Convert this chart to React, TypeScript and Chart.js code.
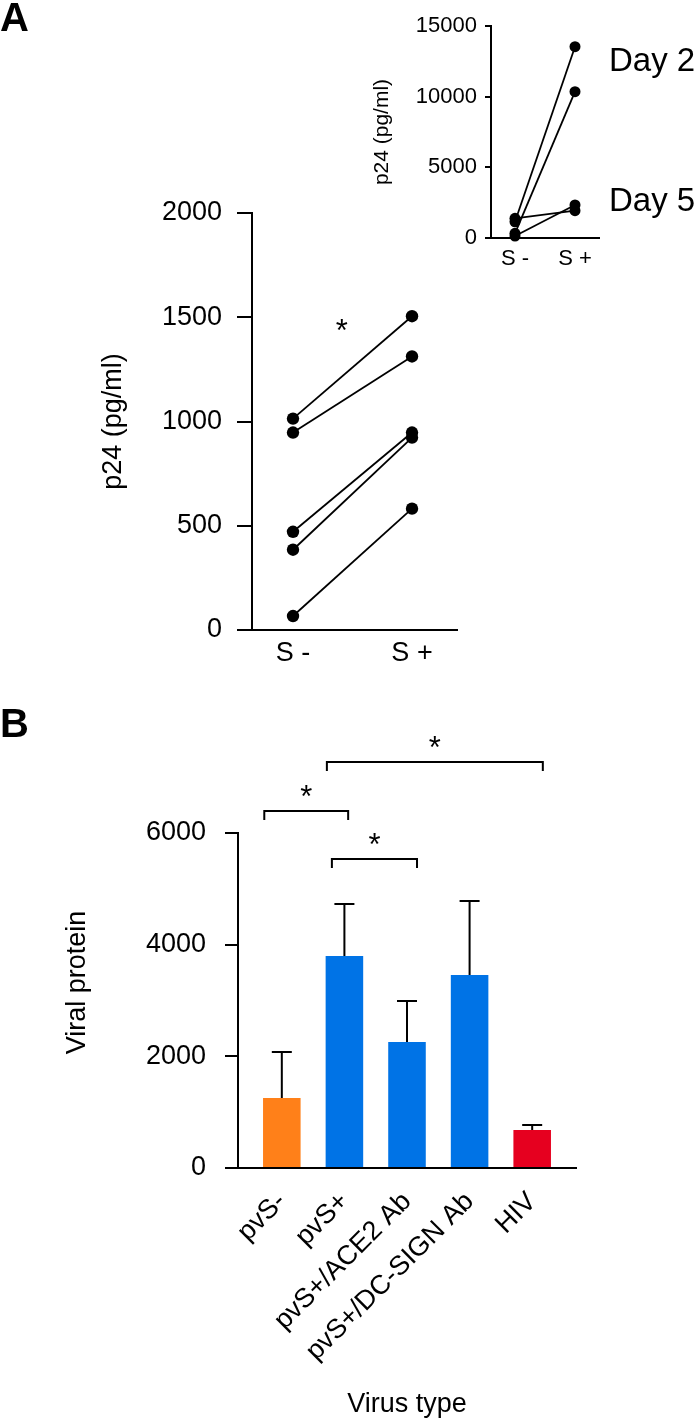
import React, { useEffect, useRef } from "react";
import { Chart, registerables } from "chart.js";

Chart.register(...registerables);
Chart.defaults.color = "#000";

const FONT = '"Liberation Sans", Arial, Helvetica, sans-serif';

// ---------- Panel A, main plot ----------
const pairCategories = ["S -", "S +"];
const mainSMinus = [1014, 947, 471, 385, 67];
const mainSPlus = [1505, 1312, 947, 923, 582];
const mainYTicks = [0, 500, 1000, 1500, 2000];
const mainStarPos = [0.41, 1463];
const mainXRange = [-0.3445, 1.378];

// ---------- Panel A, inset ----------
const insetSMinus = [1150, 330, 1390, 140];
const insetSPlus = [13535, 10350, 1930, 2335];
const insetYTicks = [0, 5000, 10000, 15000];
const dayLabels = ["Day 2", "Day 5"];
const dayLabelValues = [12380, 2480];
const insetXRange = [-0.4, 1.4];

// ---------- Panel B ----------
const virusTypes = ["pvS-", "pvS+", "pvS+/ACE2 Ab", "pvS+/DC-SIGN Ab", "HIV"];
const viralMeans = [1254, 3797, 2257, 3457, 681];
const viralErrors = [824, 932, 734, 1325, 89];
const virusColors = ["#FF8019", "#0073E6", "#0073E6", "#0073E6", "#E6001F"];
const viralYTicks = [0, 2000, 4000, 6000];
const barXRange = [-0.7, 4.7];
const bracketStarts = [-0.28, 0.8, 0.72];
const bracketEnds = [1.06, 2.16, 4.17];
const bracketLevels = [6394, 5535, 7272];
const bracketLabels = ["*", "*", "*"];
const barYTitle = "Viral protein";

function drawText(
  ctx: CanvasRenderingContext2D,
  text: string,
  x: number,
  y: number,
  font: string,
  align: CanvasTextAlign
) {
  ctx.save();
  ctx.font = font;
  ctx.fillStyle = "#000";
  ctx.textAlign = align;
  ctx.textBaseline = "alphabetic";
  const m = ctx.measureText(text);
  const asc = m.actualBoundingBoxAscent;
  const desc = m.actualBoundingBoxDescent;
  ctx.fillText(text, x, y + (asc - desc) / 2);
  ctx.restore();
}

const tickFont = (size: number) => ({ family: FONT, size });

function makeMain(): any {
  return {
    type: "line",
    data: {
      datasets: mainSMinus.map((v, i) => ({
        data: [
          { x: 0, y: v },
          { x: 1, y: mainSPlus[i] },
        ],
        borderColor: "#000",
        borderWidth: 1.8,
        pointRadius: 6.2,
        pointBackgroundColor: "#000",
        pointBorderColor: "#000",
        pointBorderWidth: 0,
        clip: false,
      })),
    },
    options: {
      responsive: false,
      animation: false,
      layout: { padding: { top: 213, right: 243, bottom: 0, left: 90 } },
      plugins: { legend: { display: false }, tooltip: { enabled: false } },
      scales: {
        x: {
          type: "linear",
          min: mainXRange[0],
          max: mainXRange[1],
          afterBuildTicks: (s: any) => {
            s.ticks = pairCategories.map((_, i) => ({ value: i }));
          },
          afterFit: (s: any) => {
            s.height = 70;
          },
          grid: { display: false, drawTicks: false },
          border: { display: true, color: "#000", width: 2 },
          ticks: {
            callback: (v: any) => pairCategories[v] ?? "",
            font: tickFont(27),
            color: "#000",
            padding: 7,
            maxRotation: 0,
            autoSkip: false,
          },
        },
        y: {
          type: "linear",
          min: 0,
          max: 2000,
          afterBuildTicks: (s: any) => {
            s.ticks = mainYTicks.map((v) => ({ value: v }));
          },
          afterFit: (s: any) => {
            s.width = 162;
          },
          grid: {
            drawOnChartArea: false,
            drawTicks: true,
            tickLength: 15,
            color: "#000",
            lineWidth: 2,
          },
          border: { display: true, color: "#000", width: 2 },
          ticks: {
            callback: (v: any) => String(v),
            font: tickFont(27),
            color: "#000",
            padding: 15,
          },
          title: {
            display: true,
            text: "p24 (pg/ml)",
            font: tickFont(27),
            color: "#000",
            padding: { top: 7, bottom: 0 },
          },
        },
      },
    },
    plugins: [
      {
        id: "mainStar",
        afterDraw(chart: any) {
          const { ctx, scales } = chart;
          drawText(
            ctx,
            "*",
            scales.x.getPixelForValue(mainStarPos[0]),
            scales.y.getPixelForValue(mainStarPos[1]),
            `31px ${FONT}`,
            "center"
          );
        },
      },
    ],
  };
}

function makeInset(): any {
  return {
    type: "line",
    data: {
      datasets: insetSMinus.map((v, i) => ({
        data: [
          { x: 0, y: v },
          { x: 1, y: insetSPlus[i] },
        ],
        borderColor: "#000",
        borderWidth: 1.8,
        pointRadius: 5.5,
        pointBackgroundColor: "#000",
        pointBorderColor: "#000",
        pointBorderWidth: 0,
        clip: false,
      })),
    },
    options: {
      responsive: false,
      animation: false,
      layout: { padding: { top: 26, right: 101, bottom: 0, left: 360 } },
      plugins: { legend: { display: false }, tooltip: { enabled: false } },
      scales: {
        x: {
          type: "linear",
          min: insetXRange[0],
          max: insetXRange[1],
          afterBuildTicks: (s: any) => {
            s.ticks = pairCategories.map((_, i) => ({ value: i }));
          },
          afterFit: (s: any) => {
            s.height = 62;
          },
          grid: { display: false, drawTicks: false },
          border: { display: true, color: "#000", width: 2 },
          ticks: {
            callback: (v: any) => pairCategories[v] ?? "",
            font: tickFont(22),
            color: "#000",
            padding: 8,
            maxRotation: 0,
            autoSkip: false,
          },
        },
        y: {
          type: "linear",
          min: 0,
          max: 15000,
          afterBuildTicks: (s: any) => {
            s.ticks = insetYTicks.map((v) => ({ value: v }));
          },
          afterFit: (s: any) => {
            s.width = 131;
          },
          grid: {
            drawOnChartArea: false,
            drawTicks: true,
            tickLength: 6,
            color: "#000",
            lineWidth: 2,
          },
          border: { display: true, color: "#000", width: 2 },
          ticks: {
            callback: (v: any) => String(v),
            font: tickFont(22),
            color: "#000",
            padding: 8,
          },
          title: {
            display: true,
            text: "p24 (pg/ml)",
            font: tickFont(21),
            color: "#000",
            padding: { top: 10, bottom: 0 },
          },
        },
      },
    },
    plugins: [
      {
        id: "dayLabels",
        afterDraw(chart: any) {
          const { ctx, scales, chartArea } = chart;
          dayLabels.forEach((t, i) => {
            drawText(
              ctx,
              t,
              chartArea.right + 10,
              scales.y.getPixelForValue(dayLabelValues[i]),
              `33px ${FONT}`,
              "left"
            );
          });
        },
      },
    ],
  };
}

function makeBars(): any {
  return {
    type: "bar",
    data: {
      datasets: [
        {
          data: viralMeans.map((v, i) => ({ x: i, y: v })),
          backgroundColor: virusColors,
          borderWidth: 0,
          barPercentage: 0.6,
          categoryPercentage: 1,
        },
      ],
    },
    options: {
      responsive: false,
      animation: false,
      layout: { padding: { top: 133, right: 124, bottom: 0, left: 50 } },
      plugins: { legend: { display: false }, tooltip: { enabled: false } },
      scales: {
        x: {
          type: "linear",
          offset: false,
          min: barXRange[0],
          max: barXRange[1],
          afterBuildTicks: (s: any) => {
            s.ticks = virusTypes.map((_, i) => ({ value: i }));
          },
          afterFit: (s: any) => {
            s.height = 256;
          },
          grid: { display: false, drawTicks: false },
          border: { display: true, color: "#000", width: 2 },
          ticks: {
            callback: (v: any) => virusTypes[v] ?? "",
            font: tickFont(27),
            color: "#000",
            padding: 18,
            minRotation: 45,
            maxRotation: 45,
            autoSkip: false,
          },
          title: {
            display: true,
            text: "Virus type",
            font: tickFont(27),
            color: "#000",
            padding: { top: 0, bottom: 3 },
          },
        },
        y: {
          type: "linear",
          min: 0,
          max: 6000,
          afterBuildTicks: (s: any) => {
            s.ticks = viralYTicks.map((v) => ({ value: v }));
          },
          afterFit: (s: any) => {
            s.width = 188;
          },
          grid: {
            drawOnChartArea: false,
            drawTicks: true,
            tickLength: 13,
            color: "#000",
            lineWidth: 2,
          },
          border: { display: true, color: "#000", width: 2 },
          ticks: {
            callback: (v: any) => String(v),
            font: tickFont(27),
            color: "#000",
            padding: 19,
          },
          title: { display: false },
        },
      },
    },
    plugins: [
      {
        id: "errorBarsAndBrackets",
        afterDatasetsDraw(chart: any) {
          const { ctx, scales, chartArea } = chart;
          const meta = chart.getDatasetMeta(0);
          ctx.save();
          ctx.strokeStyle = "#000";
          ctx.lineWidth = 2;
          meta.data.forEach((bar: any, i: number) => {
            const x = bar.x;
            const yBase = scales.y.getPixelForValue(viralMeans[i]);
            const yTop = scales.y.getPixelForValue(viralMeans[i] + viralErrors[i]);
            ctx.beginPath();
            ctx.moveTo(x, yBase);
            ctx.lineTo(x, yTop);
            ctx.moveTo(x - 10, yTop);
            ctx.lineTo(x + 10, yTop);
            ctx.stroke();
          });
          bracketLevels.forEach((lvl, k) => {
            const x1 = scales.x.getPixelForValue(bracketStarts[k]);
            const x2 = scales.x.getPixelForValue(bracketEnds[k]);
            const y = scales.y.getPixelForValue(lvl);
            ctx.beginPath();
            ctx.moveTo(x1, y + 9);
            ctx.lineTo(x1, y);
            ctx.lineTo(x2, y);
            ctx.lineTo(x2, y + 9);
            ctx.stroke();
            drawText(ctx, bracketLabels[k], (x1 + x2) / 2, y - 20, `31px ${FONT}`, "center");
          });
          // y-axis title, drawn a little above the axis centre as in the original figure
          ctx.save();
          ctx.translate(78, (chartArea.top + chartArea.bottom) / 2 - 18);
          ctx.rotate(-Math.PI / 2);
          ctx.font = `27px ${FONT}`;
          ctx.fillStyle = "#000";
          ctx.textAlign = "center";
          ctx.textBaseline = "middle";
          ctx.fillText(barYTitle, 0, 0);
          ctx.restore();
          ctx.restore();
        },
      },
    ],
  };
}

function ChartBox({ top, height, make }: { top: number; height: number; make: () => any }) {
  const ref = useRef<HTMLCanvasElement | null>(null);
  useEffect(() => {
    if (!ref.current) return;
    const chart = new Chart(ref.current, make());
    return () => chart.destroy();
  }, [make]);
  return (
    <canvas
      ref={ref}
      width={700}
      height={height}
      style={{ position: "absolute", left: 0, top, width: 700, height }}
    />
  );
}

const panelLetter: React.CSSProperties = {
  position: "absolute",
  left: 0,
  font: 'bold 40px "Liberation Sans", Arial, sans-serif',
  lineHeight: "40px",
  color: "#000",
};

export default function App() {
  return (
    <div
      style={{
        position: "absolute",
        left: 0,
        top: 0,
        width: 700,
        height: 1424,
        background: "#fff",
        overflow: "hidden",
      }}
    >
      <ChartBox top={0} height={700} make={makeMain} />
      <ChartBox top={0} height={300} make={makeInset} />
      <ChartBox top={700} height={724} make={makeBars} />
      <div style={{ ...panelLetter, top: -3 }}>A</div>
      <div style={{ ...panelLetter, top: 703 }}>B</div>
    </div>
  );
}
